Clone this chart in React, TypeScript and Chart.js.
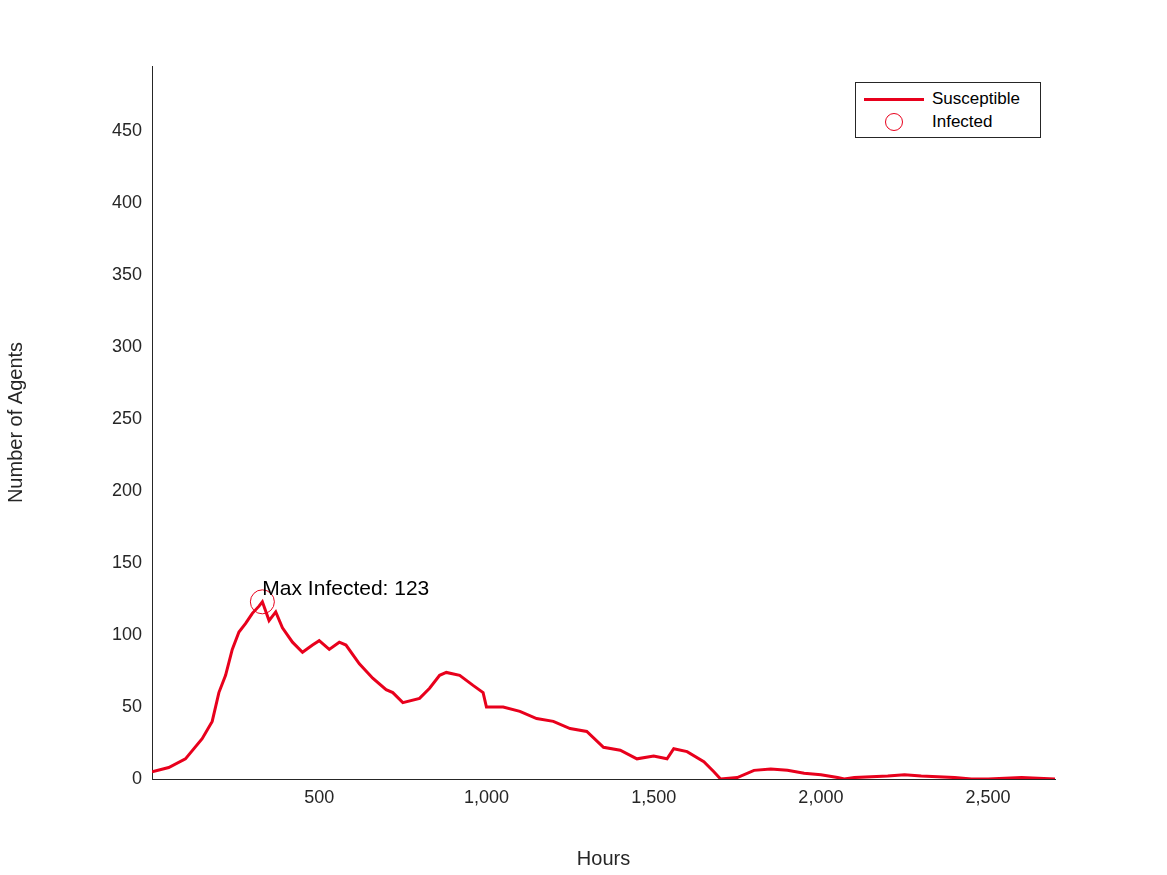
import Chart from "chart.js/auto";
import { useEffect, useRef } from "react";

const hours = [0, 50, 100, 150, 180, 200, 220, 240, 260, 280, 300, 320, 330, 350, 370, 390, 420, 450, 480, 500, 530, 560, 580, 620, 660, 700, 720, 750, 800, 830, 860, 880, 920, 960, 990, 1000, 1050, 1100, 1150, 1200, 1250, 1300, 1350, 1400, 1450, 1500, 1540, 1560, 1600, 1650, 1680, 1700, 1750, 1800, 1850, 1900, 1950, 2000, 2050, 2070, 2100, 2200, 2250, 2300, 2400, 2450, 2500, 2600, 2700];
const infected = [5, 8, 14, 28, 40, 60, 72, 90, 102, 108, 115, 120, 123, 110, 116, 105, 95, 88, 93, 96, 90, 95, 93, 80, 70, 62, 60, 53, 56, 63, 72, 74, 72, 65, 60, 50, 50, 47, 42, 40, 35, 33, 22, 20, 14, 16, 14, 21, 19, 12, 5, 0, 1, 6, 7, 6, 4, 3, 1, 0, 1, 2, 3, 2, 1, 0, 0, 1, 0];
const maxHour = 330;
const maxValue = 123;
const yTicks = [0, 50, 100, 150, 200, 250, 300, 350, 400, 450];
const xTicks = [500, 1000, 1500, 2000, 2500];

const font = "'Liberation Sans', Arial, sans-serif";

export default function App() {
  const canvasEl: any = useRef(null);

  useEffect(() => {
    const ctx = canvasEl.current.getContext("2d");
    const label = {
      id: "maxLabel",
      afterDatasetsDraw(chart: any) {
        const { ctx, scales } = chart;
        const px = scales.x.getPixelForValue(maxHour);
        const py = scales.y.getPixelForValue(maxValue);
        ctx.save();
        ctx.fillStyle = "#000";
        ctx.font = `21px ${font}`;
        ctx.textBaseline = "middle";
        ctx.fillText(`Max Infected: ${maxValue}`, px, py - 13);
        ctx.restore();
      },
    };
    const chart = new Chart(ctx, {
      type: "line",
      data: {
        datasets: [
          {
            label: "Susceptible",
            data: hours.map((h, i) => ({ x: h, y: infected[i] })),
            borderColor: "#e8001c",
            borderWidth: 3,
            pointRadius: 0,
            tension: 0,
          },
          {
            label: "Infected",
            data: [{ x: maxHour, y: maxValue }],
            showLine: false,
            pointRadius: 12,
            pointBorderColor: "#e8001c",
            pointBackgroundColor: "rgba(0,0,0,0)",
            pointBorderWidth: 1,
          },
        ],
      },
      options: {
        animation: false,
        responsive: false,
        layout: { padding: { top: 66, right: 112, left: 0, bottom: 0 } },
        plugins: { legend: { display: false }, tooltip: { enabled: false } },
        scales: {
          x: {
            type: "linear",
            min: 0,
            max: 2700,
            afterBuildTicks: (s: any) => { s.ticks = xTicks.map((v) => ({ value: v })); },
            afterFit: (s: any) => { s.height = 96; },
            grid: { display: false, drawTicks: false },
            border: { color: "#262626", width: 1 },
            ticks: { color: "#262626", font: { family: font, size: 18 }, padding: 8 },
            title: { display: true, text: "Hours", color: "#262626", font: { family: font, size: 20 }, padding: { top: 2 } },
          },
          y: {
            min: 0,
            max: 495,
            afterBuildTicks: (s: any) => { s.ticks = yTicks.map((v) => ({ value: v })); },
            afterFit: (s: any) => { s.width = 152; },
            grid: { display: false, drawTicks: false },
            border: { color: "#262626", width: 1 },
            ticks: { color: "#262626", font: { family: font, size: 18 }, padding: 10 },
            title: { display: true, text: "Number of Agents", color: "#262626", font: { family: font, size: 20 } },
          },
        },
      },
      plugins: [label],
    } as any);
    return () => chart.destroy();
  }, []);

  return (
    <div style={{ position: "absolute", left: 0, top: 0, width: 1167, height: 875, background: "#fff" }}>
      <canvas ref={canvasEl} width={1167} height={875} />
      <div style={{ position: "absolute", left: 855, top: 82, width: 184, height: 54, border: "1px solid #262626", background: "#fff", fontFamily: font, fontSize: 17, color: "#000" }}>
        <div style={{ position: "absolute", left: 8, top: 6, display: "flex", alignItems: "center" }}>
          <span style={{ width: 60, height: 3, background: "#e8001c", display: "inline-block", marginRight: 8 }} />Susceptible
        </div>
        <div style={{ position: "absolute", left: 8, top: 29, display: "flex", alignItems: "center" }}>
          <span style={{ width: 60, display: "inline-flex", justifyContent: "center", marginRight: 8 }}>
            <span style={{ width: 18, height: 18, borderRadius: "50%", border: "1px solid #e8001c", boxSizing: "border-box" }} />
          </span>Infected
        </div>
      </div>
    </div>
  );
}
